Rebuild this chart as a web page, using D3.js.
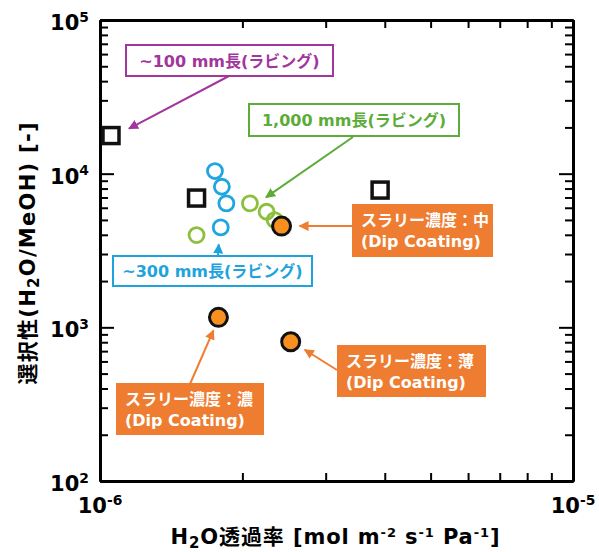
<!DOCTYPE html>
<html>
<head>
<meta charset="utf-8">
<script src="https://cdn.jsdelivr.net/npm/d3@7"></script>
<style>
  body { margin: 0; background: #fff; }
  svg text { font-family: 'DejaVu Sans', 'Noto Sans CJK JP', sans-serif; font-weight: bold; }
</style>
</head>
<body>
<div id="chart"></div>
<script>
// data (permeance mol m-2 s-1 Pa-1, selectivity H2O/MeOH)
const rub100X = [1.055e-6, 1.60e-6, 3.91e-6];
const rub100Y = [17700, 6940, 7820];
const rub300X = [1.75e-6, 1.81e-6, 1.85e-6, 1.80e-6];
const rub300Y = [10400, 8220, 6410, 4470];
const rub1000X = [1.60e-6, 2.075e-6, 2.25e-6, 2.34e-6];
const rub1000Y = [3985, 6410, 5650, 4990];
const dipX = [1.78e-6, 2.42e-6, 2.53e-6];
const dipY = [1161, 4560, 806];
const dipNames = ['濃', '中', '薄'];
const xTickLabels = [['10', '-6'], ['10', '-5']];
const yTickLabels = [['10', '2'], ['10', '3'], ['10', '4'], ['10', '5']];

const margin = { top: 20, right: 26, bottom: 71, left: 100 };
const width = 473, height = 461;

const svg = d3.select('#chart').append('svg')
    .attr('width', width + margin.left + margin.right)
    .attr('height', height + margin.top + margin.bottom)
    .append('g')
    .attr('transform', 'translate(' + margin.left + ',' + margin.top + ')');

const x = d3.scaleLog().domain([1e-6, 1e-5]).range([0, width]);
const y = d3.scaleLog().domain([1e2, 1e5]).range([height, 0]);

const isMajor = v => Math.abs(Math.log10(v) - Math.round(Math.log10(v))) < 1e-9;
const majorX = x.ticks().filter(isMajor), minorX = x.ticks().filter(v => !isMajor(v));
const majorY = y.ticks().filter(isMajor), minorY = y.ticks().filter(v => !isMajor(v));

function drawAxis(axisFn, scale, transform, major, minor) {
    const g = svg.append('g').attr('transform', transform);
    g.append('g').call(axisFn(scale).tickValues(minor).tickSize(-8).tickSizeOuter(0).tickFormat(''));
    g.append('g').call(axisFn(scale).tickValues(major).tickSize(-14).tickSizeOuter(0).tickFormat(''));
    g.selectAll('.tick line').attr('stroke', '#000').attr('stroke-width', 2);
    g.selectAll('.domain').attr('stroke', '#000').attr('stroke-width', 3);
    return g;
}
drawAxis(d3.axisBottom, x, `translate(0,${height})`, majorX, minorX);
drawAxis(d3.axisTop, x, 'translate(0,0)', majorX, minorX);
drawAxis(d3.axisLeft, y, 'translate(0,0)', majorY, minorY);
drawAxis(d3.axisRight, y, `translate(${width},0)`, majorY, minorY);

function supText(t, parts, baseSize) {
    t.append('tspan').text(parts[0]);
    t.append('tspan').attr('dy', -baseSize * 0.4).attr('font-size', baseSize * 0.66).text(parts[1]);
}

// tick labels
majorX.forEach((v, i) => {
    const t = svg.append('text').attr('x', x(v)).attr('y', height + 32)
        .attr('text-anchor', 'middle').attr('font-size', 21);
    supText(t, xTickLabels[i], 21);
});
majorY.forEach((v, i) => {
    const t = svg.append('text').attr('x', -11).attr('y', y(v) + 10)
        .attr('text-anchor', 'end').attr('font-size', 21);
    supText(t, yTickLabels[i], 21);
});

// axis titles
const xt = svg.append('text').attr('x', 235).attr('y', height + 63)
    .attr('text-anchor', 'middle').attr('font-size', 21)
    .attr('textLength', 329).attr('lengthAdjust', 'spacing');
xt.append('tspan').text('H');
xt.append('tspan').attr('dy', 4).attr('font-size', 15).text('2');
xt.append('tspan').attr('dy', -4).text('O透過率 [mol m');
xt.append('tspan').attr('dy', -7).attr('font-size', 13).text('-2');
xt.append('tspan').attr('dy', 7).text(' s');
xt.append('tspan').attr('dy', -7).attr('font-size', 13).text('-1');
xt.append('tspan').attr('dy', 7).text(' Pa');
xt.append('tspan').attr('dy', -7).attr('font-size', 13).text('-1');
xt.append('tspan').attr('dy', 7).text(']');

const yt = svg.append('text').attr('transform', `translate(-65,${height / 2 + 3}) rotate(-90)`)
    .attr('text-anchor', 'middle').attr('font-size', 21)
    .attr('textLength', 262).attr('lengthAdjust', 'spacing');
yt.append('tspan').text('選択性(H');
yt.append('tspan').attr('dy', 4).attr('font-size', 15).text('2');
yt.append('tspan').attr('dy', -4).text('O/MeOH) [-]');

// arrow heads
const defs = svg.append('defs');
const colors = { purple: '#a2369c', green: '#5dab38', blue: '#1ea3dd', orange: '#ee7d31' };
Object.entries(colors).forEach(([k, c]) => {
    defs.append('marker').attr('id', 'arr-' + k).attr('viewBox', '0 0 10 10')
        .attr('refX', 9).attr('refY', 5).attr('markerWidth', 5).attr('markerHeight', 5)
        .attr('orient', 'auto').append('path').attr('d', 'M0,0L10,5L0,10z').attr('fill', c);
});

// markers
svg.selectAll('.sq').data(rub100X).enter().append('rect')
    .attr('x', (d, i) => x(d) - 8).attr('y', (d, i) => y(rub100Y[i]) - 8)
    .attr('width', 16).attr('height', 16)
    .attr('fill', '#fff').attr('stroke', '#111').attr('stroke-width', 3.5);

svg.selectAll('.c1000').data(rub1000X).enter().append('circle')
    .attr('cx', d => x(d)).attr('cy', (d, i) => y(rub1000Y[i])).attr('r', 7.5)
    .attr('fill', 'none').attr('stroke', '#8cbf3c').attr('stroke-width', 2.8);

svg.selectAll('.c300').data(rub300X).enter().append('circle')
    .attr('cx', d => x(d)).attr('cy', (d, i) => y(rub300Y[i])).attr('r', 7.5)
    .attr('fill', 'none').attr('stroke', '#1fa5e0').attr('stroke-width', 2.8);

svg.selectAll('.dip').data(dipX).enter().append('circle')
    .attr('cx', d => x(d)).attr('cy', (d, i) => y(dipY[i])).attr('r', 9)
    .attr('fill', '#f7901e').attr('stroke', '#111').attr('stroke-width', 3);

// annotations: box in page px, arrow tip offset from the data point
function arrow(x1, y1, tx, ty, key) {
    svg.append('line').attr('x1', x1 - margin.left).attr('y1', y1 - margin.top)
        .attr('x2', tx).attr('y2', ty)
        .attr('stroke', colors[key]).attr('stroke-width', 2)
        .attr('marker-end', `url(#arr-${key})`);
}
function outlineBox(bx, by, bw, bh, label, key) {
    svg.append('rect').attr('x', bx - margin.left).attr('y', by - margin.top)
        .attr('width', bw).attr('height', bh)
        .attr('fill', '#fff').attr('stroke', colors[key]).attr('stroke-width', 2);
    svg.append('text').attr('x', bx - margin.left + bw / 2).attr('y', by - margin.top + bh / 2 + 6)
        .attr('text-anchor', 'middle').attr('font-size', 16).attr('fill', colors[key]).text(label);
}
function fillBox(bx, by, bw, bh, name) {
    svg.append('rect').attr('x', bx - margin.left).attr('y', by - margin.top)
        .attr('width', bw).attr('height', bh).attr('fill', colors.orange);
    const t = svg.append('text').attr('x', bx - margin.left + 9).attr('y', by - margin.top + 22)
        .attr('font-size', 16).attr('fill', '#fff');
    t.append('tspan').text('スラリー濃度：' + name);
    t.append('tspan').attr('x', bx - margin.left + 9).attr('dy', 21).text('(Dip Coating)');
}

arrow(229, 76, x(rub100X[0]) + 18, y(rub100Y[0]) - 7, 'purple');
outlineBox(126, 45, 207, 31, '~100 mm長(ラビング)', 'purple');

arrow(353, 137, x(rub1000X[1]) + 16, y(rub1000Y[1]) - 6, 'green');
outlineBox(249, 104, 210, 32, '1,000 mm長(ラビング)', 'green');

arrow(218, 257, x(rub300X[3]) - 2, y(rub300Y[3]) + 17, 'blue');
outlineBox(113, 256, 199, 30, '~300 mm長(ラビング)', 'blue');

arrow(352, 226, x(dipX[1]) + 18, y(dipY[1]), 'orange');
fillBox(352, 204, 141, 53, dipNames[1]);

arrow(190, 384, x(dipX[0]) - 5, y(dipY[0]) + 13, 'orange');
fillBox(116, 383, 148, 52, dipNames[0]);

arrow(337, 370, x(dipX[2]) + 14, y(dipY[2]) + 8, 'orange');
fillBox(337, 345, 149, 52, dipNames[2]);
</script>
</body>
</html>
